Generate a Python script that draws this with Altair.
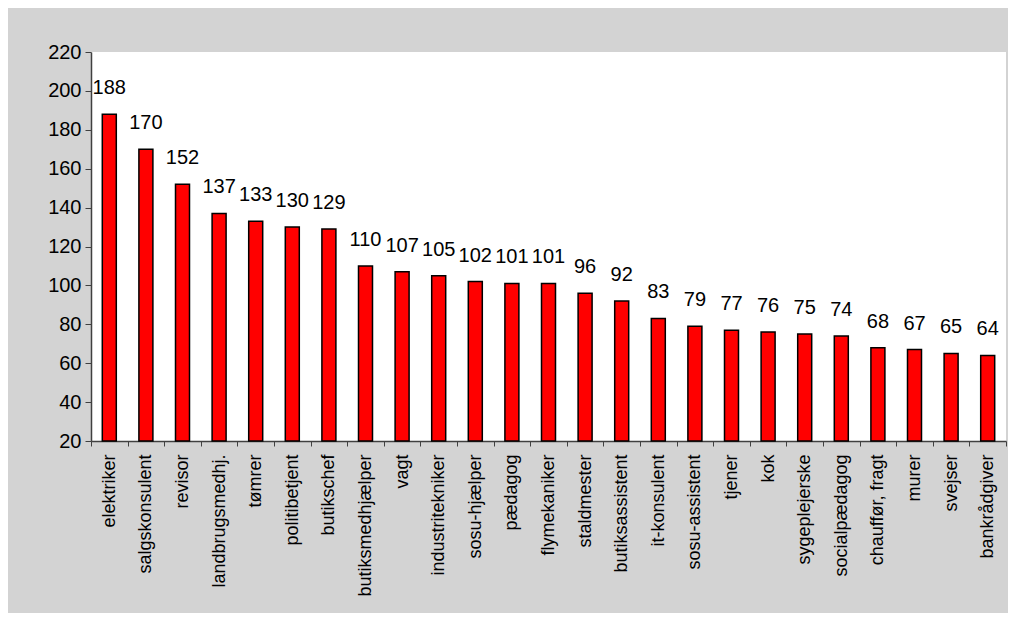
import altair as alt
import pandas as pd

categories = ["elektriker", "salgskonsulent", "revisor", "landbrugsmedhj.", "tømrer",
              "politibetjent", "butikschef", "butiksmedhjælper", "vagt", "industritekniker",
              "sosu-hjælper", "pædagog", "flymekaniker", "staldmester", "butiksassistent",
              "it-konsulent", "sosu-assistent", "tjener", "kok", "sygeplejerske",
              "socialpædagog", "chauffør, fragt", "murer", "svejser", "bankrådgiver"]
values = [188, 170, 152, 137, 133, 130, 129, 110, 107, 105, 102, 101, 101, 96, 92,
          83, 79, 77, 76, 75, 74, 68, 67, 65, 64]
y_ticks = [20, 40, 60, 80, 100, 120, 140, 160, 180, 200, 220]
baseline = 20

df = pd.DataFrame({"job": categories, "value": values})

FONT = "Liberation Sans"

x = alt.X("job:N", sort=categories, title=None,
          scale=alt.Scale(paddingInner=0, paddingOuter=0),
          axis=alt.Axis(labelAngle=-90, labelAlign="right", labelBaseline="middle",
                        labelFontSize=18, labelFont=FONT, labelColor="black",
                        labelPadding=8, labelLimit=0, labelOverlap=False,
                        tickBand="extent", tickSize=5,
                        domainColor="#404040", tickColor="#404040", domainWidth=1.5))
y = alt.Y("value:Q", title=None,
          scale=alt.Scale(domain=[20, 220], nice=False, zero=False),
          axis=alt.Axis(values=y_ticks, labelFontSize=20, labelFont=FONT,
                        labelColor="black", labelPadding=4, tickSize=6, grid=False,
                        labelOverlap=False, labelFlush=False,
                        domainColor="#404040", tickColor="#404040", domainWidth=1.5))

bars = alt.Chart(df).mark_bar(color="#ff0000", stroke="black", strokeWidth=1.5,
                              size=14).encode(x=x, y=y, y2=alt.datum(baseline))
labels = alt.Chart(df).mark_text(dy=-16, fontSize=20, font=FONT, color="black",
                                 baseline="bottom").encode(
    x=x, y=y, text="value:Q")

chart = (bars + labels).properties(
    width=915, height=389,
    background="#d3d3d3",
    autosize=alt.AutoSizeParams(type="none"),
    padding={"left": 83, "top": 44, "right": 2, "bottom": 172},
).configure_view(fill="white", stroke=None)

chart.save("out.html", embed_options={"renderer": "svg", "actions": False})
